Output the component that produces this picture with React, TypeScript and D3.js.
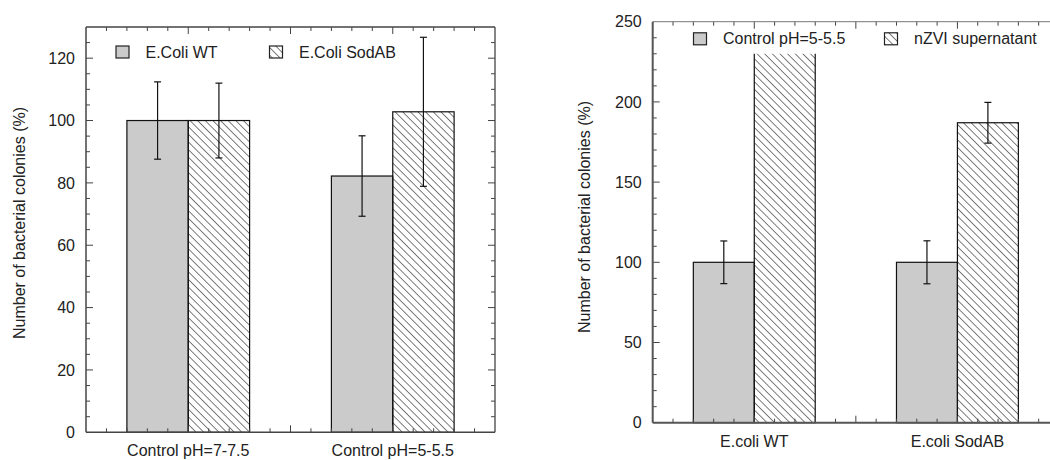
import React from 'react';
import * as d3 from 'd3';

// ---------- data ----------
const leftCategories = ['Control pH=7-7.5', 'Control pH=5-5.5'];
const leftSeries = ['E.Coli WT', 'E.Coli SodAB'];
const leftWT = [100, 82.2];
const leftWTErr = [12.4, 12.9];
const leftSod = [100, 102.8];
const leftSodErr = [12, 23.9];
const leftYTicks = [0, 20, 40, 60, 80, 100, 120];

const rightCategories = ['E.coli WT', 'E.coli SodAB'];
const rightSeries = ['Control pH=5-5.5', 'nZVI supernatant'];
const rightControl = [100, 100];
const rightControlErr = [13.3, 13.4];
// first nZVI bar runs off the visible area (hidden behind the legend), visible up to ~230
const rightNzvi = [230, 187];
const rightNzviErr = [0, 12.7];
const rightNzviTruncated = [true, false];
const rightYTicks = [0, 50, 100, 150, 200, 250];

const FONT = "'Liberation Sans', Arial, Helvetica, sans-serif";
const TEXT = '#222';
const FS = 16;

type PanelProps = {
  id: string;
  x0: number; x1: number; y0: number; y1: number;
  yMax: number; yTicks: number[]; yMinorStep: number;
  categories: string[]; series: string[];
  a: number[]; aErr: number[]; b: number[]; bErr: number[]; bTrunc?: boolean[];
  yLabelX: number; yLabelY: number; xLabelY: number;
  legendY: number; legendX: number[];
  frameColor: string; frameW: number; topColor: string; topW: number;
};

function Panel(p: PanelProps) {
  const x = d3.scaleLinear().domain([0, 4]).range([p.x0, p.x1]);
  const y = d3.scaleLinear().domain([0, p.yMax]).range([p.y1, p.y0]);
  const centers = [1, 3];
  const bw = 0.6;
  const xMinor = d3.range(0.2, 4, 0.2).map(v => Math.round(v * 10) / 10);
  const yMinor = d3.range(p.yMinorStep, p.yMax, p.yMinorStep);
  const isMajorX = (v: number) => Math.abs(v - Math.round(v)) < 1e-6;
  const isMajorY = (v: number) => p.yTicks.some(t => Math.abs(t - v) < 1e-6);
  const cap = 3.5;
  const patId = `hatch-${p.id}`;
  return (
    <g>
      <defs>
        <pattern id={patId} patternUnits="userSpaceOnUse" width={5.4} height={20} patternTransform="rotate(-45)">
          <line x1={0} y1={0} x2={0} y2={20} stroke="#111" strokeWidth={1.1} />
        </pattern>
      </defs>
      {centers.map((c, i) => (
        <g key={`bars-${i}`}>
          <rect x={x(c - bw)} y={y(p.a[i])} width={x(c) - x(c - bw)} height={y(0) - y(p.a[i])}
            fill="#cbcbcb" stroke="#111" strokeWidth={1.2} />
          <rect x={x(c)} y={y(p.b[i])} width={x(c + bw) - x(c)} height={y(0) - y(p.b[i])}
            fill={`url(#${patId})`} stroke="none" />
          {p.bTrunc && p.bTrunc[i] ? (
            <path d={`M${x(c)},${y(p.b[i])}V${y(0)}H${x(c + bw)}V${y(p.b[i])}`} fill="none" stroke="#111" strokeWidth={1.2} />
          ) : (
            <rect x={x(c)} y={y(p.b[i])} width={x(c + bw) - x(c)} height={y(0) - y(p.b[i])}
              fill="none" stroke="#111" strokeWidth={1.2} />
          )}
        </g>
      ))}
      {centers.map((c, i) => {
        const items: [number, number, number][] = [[c - bw / 2, p.a[i], p.aErr[i]], [c + bw / 2, p.b[i], p.bErr[i]]];
        return items.filter(d => d[2] > 0).map((d, j) => {
          const cx = x(d[0]);
          const hi = y(d[1] + d[2]);
          const lo = y(d[1] - d[2]);
          return (
            <g key={`err-${i}-${j}`} stroke="#111" strokeWidth={1.2}>
              <line x1={cx} x2={cx} y1={hi} y2={lo} />
              <line x1={cx - cap} x2={cx + cap} y1={hi} y2={hi} />
              <line x1={cx - cap} x2={cx + cap} y1={lo} y2={lo} />
            </g>
          );
        });
      })}
      <g stroke="#444" strokeWidth={1}>
        {xMinor.map(v => {
          const len = isMajorX(v) ? 7 : 4;
          return (
            <g key={`xt-${v}`}>
              <line x1={x(v)} x2={x(v)} y1={p.y1} y2={p.y1 - len} />
              <line x1={x(v)} x2={x(v)} y1={p.y0} y2={p.y0 + len} />
            </g>
          );
        })}
        {yMinor.map(v => {
          const len = isMajorY(v) ? 7 : 4;
          return (
            <g key={`yt-${v}`}>
              <line x1={p.x0} x2={p.x0 + len} y1={y(v)} y2={y(v)} />
              <line x1={p.x1} x2={p.x1 - len} y1={y(v)} y2={y(v)} />
            </g>
          );
        })}
      </g>
      <line x1={p.x0} x2={p.x1} y1={p.y0} y2={p.y0} stroke={p.topColor} strokeWidth={p.topW} />
      <line x1={p.x1} x2={p.x1} y1={p.y0} y2={p.y1} stroke={p.topColor} strokeWidth={p.topW} />
      <line x1={p.x0} x2={p.x0} y1={p.y0} y2={p.y1} stroke={p.frameColor} strokeWidth={p.frameW} />
      <line x1={p.x0} x2={p.x1} y1={p.y1} y2={p.y1} stroke={p.frameColor} strokeWidth={p.frameW} />
      {p.yTicks.map(t => (
        <text key={`yl-${t}`} x={p.x0 - 11} y={y(t)} dy="0.36em" textAnchor="end"
          fontFamily={FONT} fontSize={FS} fill={TEXT}>{t}</text>
      ))}
      {centers.map((c, i) => (
        <text key={`xl-${i}`} x={x(c)} y={p.xLabelY} textAnchor="middle"
          fontFamily={FONT} fontSize={FS} fill={TEXT}>{p.categories[i]}</text>
      ))}
      <text transform={`translate(${p.yLabelX},${p.yLabelY}) rotate(-90)`} textAnchor="middle" dy="0.35em"
        fontFamily={FONT} fontSize={FS} fill={TEXT}>Number of bacterial colonies (%)</text>
      {p.series.map((s, i) => (
        <g key={`lg-${i}`}>
          <rect x={p.legendX[i]} y={p.legendY - 11.5} width={13} height={12}
            fill={i === 0 ? '#cbcbcb' : `url(#${patId})`} stroke="#222" strokeWidth={1.2} />
          <text x={p.legendX[i] + 29.5} y={p.legendY} fontFamily={FONT} fontSize={FS} fill={TEXT}>{s}</text>
        </g>
      ))}
    </g>
  );
}

export default function App() {
  return (
    <svg width={1050} height={460} style={{ position: 'absolute', left: 0, top: 0, background: '#fff' }}>
      <rect x={0} y={0} width={1050} height={460} fill="#fff" />
      <Panel id="left" x0={86} x1={495} y0={27} y1={432.3} yMax={130} yTicks={leftYTicks} yMinorStep={5}
        categories={leftCategories} series={leftSeries}
        a={leftWT} aErr={leftWTErr} b={leftSod} bErr={leftSodErr}
        yLabelX={19} yLabelY={223} xLabelY={456}
        legendY={57.5} legendX={[116, 269.5]}
        frameColor="#444" frameW={1.5} topColor="#444" topW={1.3} />
      <Panel id="right" x0={652.7} x1={1059} y0={21.7} y1={422.7} yMax={250} yTicks={rightYTicks} yMinorStep={10}
        categories={rightCategories} series={rightSeries}
        a={rightControl} aErr={rightControlErr} b={rightNzvi} bErr={rightNzviErr} bTrunc={rightNzviTruncated}
        yLabelX={584} yLabelY={217} xLabelY={446.5}
        legendY={44.3} legendX={[693.5, 884.5]}
        frameColor="#555" frameW={2} topColor="#777" topW={1} />
    </svg>
  );
}
